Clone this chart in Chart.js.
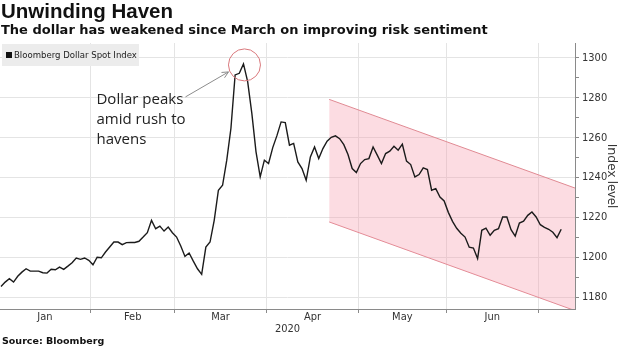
<!DOCTYPE html>
<html>
<head>
<meta charset="utf-8">
<script src="https://cdn.jsdelivr.net/npm/chart.js@4.4.1/dist/chart.umd.min.js"></script>
<style>
    html, body { margin: 0; padding: 0; background: #fff; }
    #wrap { position: relative; width: 620px; height: 348px; overflow: hidden; }
    #chart { position: absolute; left: 0; top: 0; }
    .title { position: absolute; left: 1px; top: -1px; font: bold 20.5px "Liberation Sans", sans-serif; color: #111; white-space: nowrap; }
    .subtitle { position: absolute; left: 1px; top: 22px; font: bold 13px "DejaVu Sans", sans-serif; color: #111; white-space: nowrap; }
    .source { position: absolute; left: 2px; top: 335px; font: bold 9.5px "DejaVu Sans", sans-serif; color: #111; white-space: nowrap; }
</style>
</head>
<body>
<div id="wrap">
    <canvas id="chart" width="620" height="348"></canvas>
    <div class="title">Unwinding Haven</div>
    <div class="subtitle">The dollar has weakened since March on improving risk sentiment</div>
    <div class="source">Source: Bloomberg</div>
</div>
<script>
// Bloomberg Dollar Spot Index, one value per trading day from 2 Jan 2020
const seriesName = 'Bloomberg Dollar Spot Index';
const startDate = '2020-01-02';
const dollarIndex = [
    1185.3, 1187.5, 1189.2, 1187.5, 1190.4, 1192.5, 1194.2, 1193.0, 1193.0, 1193.0,
    1192.2, 1192.0, 1193.9, 1193.7, 1195.0, 1193.9, 1195.5, 1197.2, 1199.6, 1198.9,
    1199.6, 1198.4, 1196.2, 1200.0, 1199.7, 1202.6, 1205.1, 1207.6, 1207.6, 1206.3,
    1207.3, 1207.4, 1207.4, 1208.0, 1210.1, 1212.3, 1218.5, 1214.3, 1215.6, 1213.1,
    1215.1, 1212.3, 1210.1, 1205.6, 1200.4, 1202.1, 1198.0, 1194.2, 1191.4, 1205.1,
    1207.6, 1218.5, 1233.6, 1236.1, 1248.7, 1264.7, 1291.5, 1292.3, 1297.0, 1288.1,
    1272.2, 1252.9, 1240.3, 1248.7, 1247.0, 1255.0, 1261.0, 1267.9, 1267.6, 1256.2,
    1257.1, 1247.8, 1244.5, 1238.6, 1250.3, 1255.3, 1249.5, 1254.5, 1258.2, 1260.2,
    1260.9, 1259.5, 1256.5, 1251.5, 1244.5, 1242.5, 1247.0, 1249.0, 1249.5, 1255.3,
    1251.2, 1247.0, 1252.0, 1253.2, 1255.7, 1253.7, 1256.7, 1248.2, 1246.5, 1240.3,
    1241.5, 1244.8, 1244.0, 1233.6, 1234.4, 1230.2, 1228.2, 1222.5, 1218.0, 1214.5,
    1212.0, 1210.1, 1205.0, 1204.6, 1199.3, 1213.5, 1214.6, 1211.0, 1213.5, 1214.3,
    1220.2, 1220.2, 1213.8, 1210.6, 1217.1, 1218.1, 1221.0, 1222.7, 1220.2, 1216.3,
    1215.0, 1214.0, 1212.5, 1209.8, 1214.0
];

// Downward channel drawn from April (x in trading-day index, y in index level)
const channelX = [78.5, 137.3];
const channelTop = [1279.2, 1234.7];
const channelBottom = [1217.7, 1173.2];

const monthLabels = ['Jan', 'Feb', 'Mar', 'Apr', 'May', 'Jun'];
const yearLabel = '2020';
const yTicks = [1180, 1190, 1200, 1210, 1220, 1230, 1240, 1250, 1260, 1270, 1280, 1290, 1300];
const annotationLines = ['Dollar peaks', 'amid rush to', 'havens'];

// trading dates (weekdays) for each value
const tradingDates = [];
(function () {
    const d = new Date(startDate + 'T00:00:00Z');
    while (tradingDates.length < dollarIndex.length) {
        const wd = d.getUTCDay();
        if (wd !== 0 && wd !== 6) tradingDates.push(new Date(d));
        d.setUTCDate(d.getUTCDate() + 1);
    }
})();

// month boundaries sit half a day before the first trading day of each month
const monthBounds = [-0.5];
tradingDates.forEach((d, i) => {
    if (i > 0 && d.getUTCMonth() !== tradingDates[i - 1].getUTCMonth()) monthBounds.push(i - 0.5);
});

const GRID = '#e4e4e4';
const AXIS = '#8a8a8a';
const AXIS_FONT = '"DejaVu Sans Condensed", "DejaVu Sans", sans-serif';

const chartDecor = {
    id: 'chartDecor',
    afterDraw(chart) {
        const { ctx, chartArea, scales: { x, y } } = chart;
        ctx.save();

        // month labels centred in each month, year below
        ctx.fillStyle = '#333';
        ctx.font = '11px ' + AXIS_FONT;
        ctx.textAlign = 'center';
        ctx.textBaseline = 'middle';
        monthLabels.forEach((m, k) => {
            const mid = (monthBounds[k] + monthBounds[k + 1]) / 2;
            ctx.fillText(m, x.getPixelForValue(mid), chartArea.bottom + 8);
        });
        ctx.fillText(yearLabel, (chartArea.left + chartArea.right) / 2, chartArea.bottom + 20);

        // legend box
        ctx.fillStyle = '#ececec';
        ctx.fillRect(chartArea.left + 2, chartArea.top + 1, 137, 22);
        ctx.fillStyle = '#111';
        ctx.fillRect(chartArea.left + 6, chartArea.top + 9, 6, 6);
        ctx.font = '9.5px ' + AXIS_FONT;
        ctx.textAlign = 'left';
        ctx.fillStyle = '#222';
        ctx.fillText(seriesName, chartArea.left + 14, chartArea.top + 12.5);

        // circle around the March peak
        let peakIdx = 0;
        dollarIndex.forEach((v, i) => { if (v > dollarIndex[peakIdx]) peakIdx = i; });
        const px = x.getPixelForValue(peakIdx);
        const py = y.getPixelForValue(dollarIndex[peakIdx]);
        ctx.strokeStyle = '#d9787c';
        ctx.lineWidth = 1;
        ctx.beginPath();
        ctx.arc(px + 1, py + 1, 16, 0, Math.PI * 2);
        ctx.stroke();

        // arrow from the note to the circle
        const hx = px - 15, hy = py + 8;
        const tx = px - 58, ty = py + 33;
        ctx.strokeStyle = '#8c8c8c';
        ctx.beginPath();
        ctx.moveTo(tx, ty);
        ctx.lineTo(hx, hy);
        const ang = Math.atan2(hy - ty, hx - tx);
        ctx.moveTo(hx, hy);
        ctx.lineTo(hx - 7 * Math.cos(ang - 0.45), hy - 7 * Math.sin(ang - 0.45));
        ctx.moveTo(hx, hy);
        ctx.lineTo(hx - 7 * Math.cos(ang + 0.45), hy - 7 * Math.sin(ang + 0.45));
        ctx.stroke();

        // note text
        ctx.fillStyle = '#222';
        ctx.font = '15px "Open Sans", sans-serif';
        ctx.textAlign = 'left';
        annotationLines.forEach((line, k) => {
            ctx.fillText(line, px - 147, py + 36 + k * 20);
        });

        ctx.restore();
    }
};

new Chart(document.getElementById('chart'), {
    type: 'line',
    data: {
        datasets: [{
            label: seriesName,
            data: dollarIndex.map((v, i) => ({ x: i, y: v })),
            borderColor: '#1b1b1b',
            borderWidth: 1.4,
            pointRadius: 0,
            tension: 0,
            fill: false
        }, {
            label: 'channel top',
            data: channelX.map((v, i) => ({ x: v, y: channelTop[i] })),
            borderColor: '#e08a93',
            borderWidth: 1,
            backgroundColor: 'rgba(247, 150, 168, 0.33)',
            pointRadius: 0,
            fill: '+1'
        }, {
            label: 'channel bottom',
            data: channelX.map((v, i) => ({ x: v, y: channelBottom[i] })),
            borderColor: '#e08a93',
            borderWidth: 1,
            pointRadius: 0,
            fill: false
        }]
    },
    options: {
        responsive: false,
        animation: false,
        devicePixelRatio: 1,
        layout: { padding: { top: 43, left: 0, right: 0, bottom: 0 } },
        plugins: {
            legend: { display: false },
            tooltip: { enabled: false }
        },
        scales: {
            x: {
                type: 'linear',
                min: -0.24,
                max: 137.3,
                afterBuildTicks: (scale) => {
                    scale.ticks = monthBounds.filter(v => v > scale.min && v < scale.max).map(v => ({ value: v }));
                },
                afterFit: (scale) => { scale.height = 39; },
                ticks: { display: false },
                grid: { color: GRID, tickColor: AXIS, tickLength: 4, drawTicks: true },
                border: { display: true, color: AXIS }
            },
            y: {
                type: 'linear',
                position: 'right',
                min: 1174,
                max: 1307.5,
                afterBuildTicks: (scale) => {
                    scale.ticks = yTicks.map(v => ({ value: v }));
                },
                afterFit: (scale) => { scale.width = 45; },
                ticks: {
                    color: '#333',
                    font: { size: 11, family: AXIS_FONT },
                    padding: 3,
                    callback: (v) => (v % 20 === 0 ? v : '')
                },
                grid: {
                    color: (c) => (c.tick && c.tick.value % 20 === 0 ? GRID : 'rgba(0,0,0,0)'),
                    tickColor: AXIS,
                    tickLength: 4
                },
                border: { display: true, color: AXIS },
                title: {
                    display: true,
                    text: 'Index level',
                    color: '#333',
                    font: { size: 13, family: '"Open Sans", sans-serif' },
                    padding: 0
                }
            }
        }
    },
    plugins: [chartDecor]
});
</script>
</body>
</html>
